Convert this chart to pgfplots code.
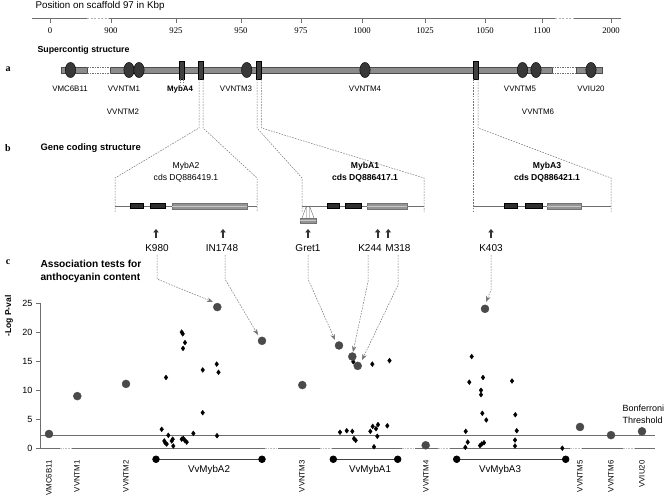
\documentclass[border=0pt]{standalone}
\usepackage{fontspec}
\setmainfont{Liberation Sans}
\newfontfamily\serif{Liberation Serif}
\usepackage{pgfplots}
\pgfplotsset{compat=1.18}
\usetikzlibrary{arrows.meta}

\definecolor{lgray}{HTML}{6E6E6E}
\definecolor{dotc}{HTML}{4A4A4A}
\definecolor{barg}{HTML}{8C8C8C}
\newcommand{\fs}[1]{\fontsize{#1}{#1}\selectfont}

\begin{document}
\begin{tikzpicture}[x=1pt,y=1pt]
\useasboundingbox (0,0) rectangle (669,498);
% everything drawn in picture pixels, y downwards
\begin{scope}[shift={(0,498)}, yscale=-1,
  dsh/.style={black!55, line width=0.5pt, dash pattern=on 1.6pt off 1.2pt},
  lab/.style={font=\fs{7.9}}]
% ---- scale bar
\node[anchor=west, font=\fs{9.8}] at (32,6) {Position on scaffold 97 in Kbp};
\draw[lgray, line width=1pt] (32,19)--(87,19) (109,19)--(555,19) (574,19)--(621,19);
\draw[black!30, line width=1pt, dash pattern=on 2pt off 1.5pt] (87,19)--(109,19) (555,19)--(574,19);
\foreach \x/\l in {50/0, 111/900, 176/925, 241/950, 301/975, 362/1000, 425/1025, 485/1050, 542/1100, 611/2000}{
  \draw[lgray, line width=0.6pt] (\x,19)--(\x,23);
  \node[font=\serif\fs{8.7}] at (\x,31) {\l};}
% ---- a: supercontig
\node[anchor=west, font=\bfseries\fs{8.8}] at (34,50) {Supercontig structure};
\node[font=\serif\bfseries\fs{10}] at (8,69) {a};
\foreach \a/\b in {61/87, 110/552, 576/602}
  \filldraw[fill=barg, draw=black!70, line width=0.4pt] (\a,67) rectangle (\b,73);
\draw[black!55, line width=0.4pt, dash pattern=on 1.5pt off 1pt] (87,67)--(110,67) (87,73)--(110,73) (552,67)--(576,67) (552,73)--(576,73);
\foreach \x in {181.5, 201, 259, 475.7}
  \filldraw[fill=black!75, draw=black, line width=0.4pt] ({\x-2.6},61) rectangle ({\x+2.6},79);
\foreach \x in {70.5, 129, 139, 246.7, 365, 522.5, 536, 591}
  \filldraw[fill=black!78, draw=black, line width=0.4pt] (\x,70) ellipse (5.2 and 7.6);
\draw[dsh] (179.8,79)--(179.8,86) (183.2,79)--(183.2,86);
\node[lab] at (70,89) {VMC6B11};
\node[lab] at (124,89) {VVNTM1};
\node[lab, font=\bfseries\fs{7.9}] at (180,89) {MybA4};
\node[lab] at (236,89) {VVNTM3};
\node[lab] at (365,89) {VVNTM4};
\node[lab] at (520,89) {VVNTM5};
\node[lab] at (591,89) {VVIU20};
\node[lab] at (123,112) {VVNTM2};
\node[lab] at (538,112) {VVNTM6};
% ---- b: gene coding structure
\node[font=\serif\bfseries\fs{10}] at (8,148) {b};
\node[anchor=west, font=\bfseries\fs{9.4}] at (37,148) {Gene coding structure};
\draw[dsh] (199,79)--(199,128)--(115,178)--(115,212);
\draw[dsh] (203,79)--(203,128)--(257,178)--(257,212);
\draw[dsh] (257,79)--(257,128)--(302,178)--(302,212);
\draw[dsh] (261.5,79)--(261.5,128)--(424,178)--(424,212);
\draw[dsh] (473.5,79)--(473.5,212);
\draw[dsh] (478,79)--(478,128)--(611,178)--(611,212);
\draw[lgray, line width=0.7pt] (115,206)--(257,206) (302,206)--(424,206) (473.5,206)--(611,206);
% exons
\foreach \a/\b in {130/143.3, 150/165, 327.3/339.3, 345/360.7, 504.3/517.3, 525/541.7}
  \filldraw[fill=black!82, draw=black, line width=0.3pt] (\a,203.5) rectangle (\b,208.5);
\foreach \a/\b in {171.7/246.7, 366.7/407.3, 546.7/581}{
  \filldraw[fill=black!42, draw=black!55, line width=0.3pt] (\a,203) rectangle (\b,209);
  \draw[black!22, line width=0.9pt] (\a,206)--(\b,206);}
% Gret1 insertion
\draw[black!60, line width=0.4pt] (306.5,206)--(306.5,218) (309.5,206)--(309.5,218) (306.5,206)--(302,218) (309.5,206)--(314,218);
\filldraw[fill=black!42, draw=black!55, line width=0.3pt] (300,218) rectangle (316,223);
\draw[black!22, line width=0.8pt] (300,220.5)--(316,220.5);
\node[font=\fs{8.6}] at (186,166) {MybA2};
\node[font=\fs{8.6}] at (186,178) {cds DQ886419.1};
\node[font=\bfseries\fs{8.6}] at (365,166) {MybA1};
\node[font=\bfseries\fs{8.6}] at (365,178) {cds DQ886417.1};
\node[font=\bfseries\fs{8.6}] at (547,166) {MybA3};
\node[font=\bfseries\fs{8.6}] at (547,178) {cds DQ886421.1};
% polymorphism arrows and labels
\foreach \x in {156, 223, 308, 377.7, 388.3, 491}
  \draw[black!80, line width=1.8pt, -{Triangle[width=5.5pt,length=3.5pt]}] (\x,238)--(\x,229);
\foreach \x/\l in {157/K980, 222/IN1748, 308/Gret1, 370/K244, 398/M318, 491/K403}
  \node[font=\fs{10}] at (\x,248) {\l};
% ---- c
\node[font=\serif\bfseries\fs{10}] at (8,262) {c};
\node[anchor=west, font=\bfseries\fs{10.2}] at (37,264) {Association tests for};
\node[anchor=west, font=\bfseries\fs{10.2}] at (37,278) {anthocyanin content};
\node[rotate=90, font=\bfseries\fs{8.5}] at (9,316) {-Log P-val};
\begin{scope}[dsh, -{Stealth[length=6pt,width=4.5pt]}]
\draw (157,255)--(157,279)--(213,302);
\draw (225,255)--(225,279)--(258,335);
\draw (308,255)--(308,279)--(335,340);
\draw (368,255)--(368,282)--(353,352);
\draw (398,255)--(398,285)--(362,360);
\draw (491,255)--(491,290)--(486,302);
\end{scope}
\node[anchor=west, font=\fs{9}] at (619,408) {Bonferroni};
\node[anchor=west, font=\fs{9}] at (619,420) {Threshold};
\node[font=\fs{9.8}] at (209,470) {VvMybA2};
\node[font=\fs{9.8}] at (370,470) {VvMybA1};
\node[font=\fs{9.8}] at (500,470) {VvMybA3};
\foreach \x/\l in {49/VMC6B11, 77/VVNTM1, 126/VVNTM2, 302/VVNTM3, 426/VVNTM4, 580/VVNTM5, 611/VVNTM6, 642/VVIU20}
  \node[rotate=90, anchor=east, font=\fs{7.8}] at (\x,457) {\l};
\end{scope}

\begin{axis}[at={(0pt,0pt)}, anchor=south west, xshift=40pt, yshift=49.5pt,
  scale only axis, width=615pt, height=145.5pt,
  xmin=40, xmax=655, ymin=0, ymax=25, enlargelimits=false,
  axis lines=left, x axis line style={draw=none}, xtick=\empty,
  axis line style={lgray, -, line width=0.7pt},
  ytick={0,5,...,25}, tick align=outside, major tick length=4pt,
  ytick style={lgray, line width=0.6pt},
  yticklabel style={font=\fs{9}},
  /pgf/number format/assume math mode=true,
  clip=false]
% zero line and Bonferroni threshold
\addplot[lgray, line width=0.9pt] coordinates {(40,0) (655,0)};
\addplot[lgray, line width=0.9pt] coordinates {(40,2.2) (655,2.2)};
\foreach \a/\b in {60/72, 265/278, 320/332, 402/415, 438/450, 570/582, 623/635}{
  \edef\tmp{\noexpand\draw[white, line width=1.6pt] (axis cs:\a,0)--(axis cs:\b,0);
  \noexpand\draw[black!25, line width=1pt, dash pattern=on 1.5pt off 1.2pt] (axis cs:\a,0)--(axis cs:\b,0);}\tmp}
% SNP markers inside the genes
\addplot[only marks, mark=diamond*, mark size=2.4pt, black] coordinates {
  (181.7,20.0) (182.7,19.7) (185,18.2) (183,17.2) (216.7,14.5) (202.7,13.5) (218.5,13.1)
  (166,12.2) (202.7,6.15) (161.7,3.3) (168.3,2.27) (193.3,2.6) (217,2.2)
  (164.3,1.3) (165.3,0.95) (166.7,0.77) (171.7,1.3) (172.7,1.6) (173.3,0.43)
  (181.7,1.6) (183.3,1.75) (185,1.35) (186.7,1.1)
  (353.3,14.9) (372.3,14.5) (389.5,15.1)
  (340,2.8) (346.7,3.05) (352.3,2.95) (354,1.7) (355.7,1.4) (370.3,2.95) (372.7,3.8)
  (376,3.4) (378,4.1) (377.3,2.1) (387.3,3.9) (374,0.3)
  (471.7,15.8) (483,12.2) (469.3,11.4) (512,11.6) (481,10.0) (481,9.25) (482.3,6.05)
  (486.3,4.9) (515.3,5.8) (465.7,2.95) (516.7,3.05) (467.7,1.1) (465.3,0.2)
  (480,0.5) (481.7,0.77) (484,1.0) (515,1.45) (515,0.43) (562.3,0.05)
};
% microsatellites and tagged polymorphisms
\addplot[only marks, mark=*, mark size=4pt, draw=dotc, fill=dotc] coordinates {
  (49,2.5) (77.3,9.0) (126,11.1) (217.3,24.3) (262,18.5) (302.3,10.9)
  (339,17.7) (352.3,15.8) (357.7,14.2) (425.7,0.55) (485,24.0)
  (580,3.7) (611,2.3) (642,2.95)
};
% gene extents
\addplot[black!75, line width=0.8pt, mark=*, mark size=3.3pt, mark options={black}] coordinates {(156,-1.85) (262,-1.85)};
\addplot[black!75, line width=0.8pt, mark=*, mark size=3.3pt, mark options={black}] coordinates {(333.3,-1.85) (397.7,-1.85)};
\addplot[black!75, line width=0.8pt, mark=*, mark size=3.3pt, mark options={black}] coordinates {(456.7,-1.85) (565.7,-1.85)};
\end{axis}
\end{tikzpicture}
\end{document}
